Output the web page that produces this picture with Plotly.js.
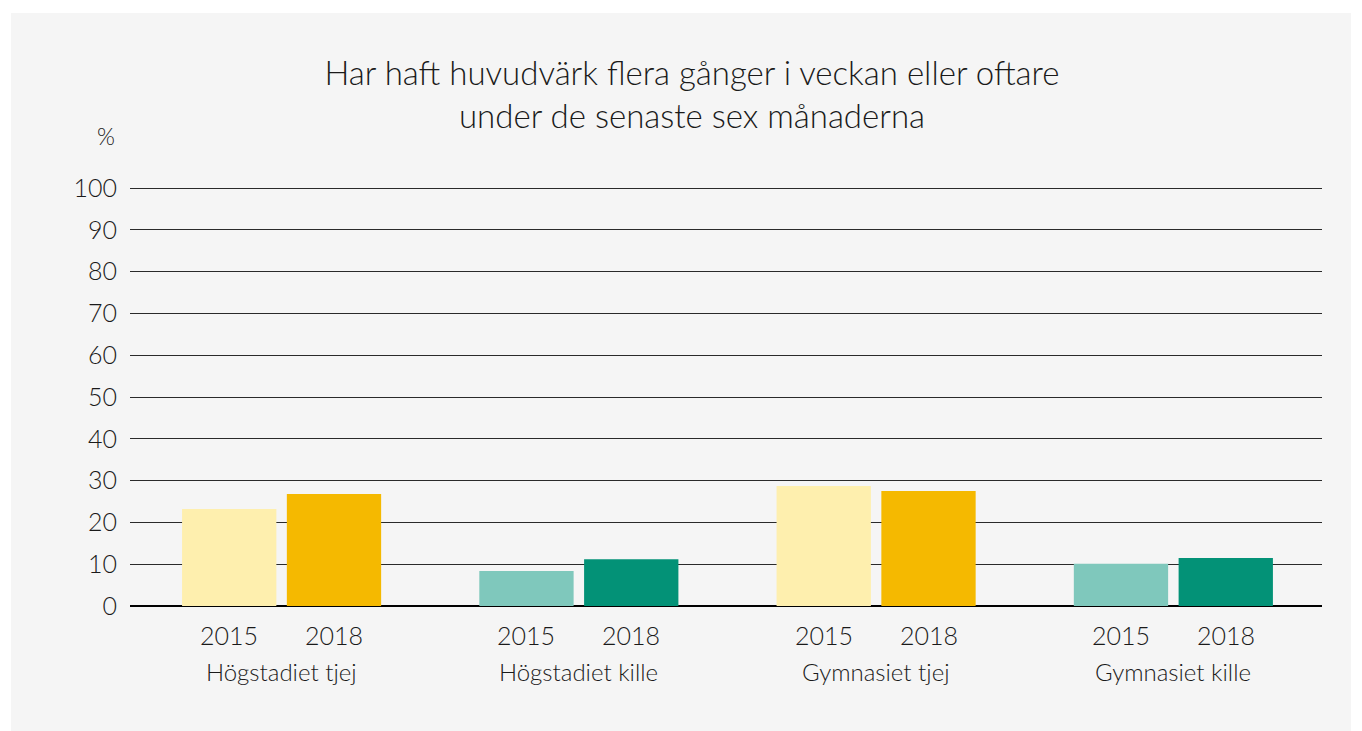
<!DOCTYPE html>
<html>
<head>
<meta charset="utf-8">
<script src="https://cdn.plot.ly/plotly-3.0.1.min.js"></script>
<style>
html,body{margin:0;padding:0;background:#ffffff;}
#chart{position:absolute;left:11px;top:13px;width:1340px;height:718px;}
</style>
</head>
<body>
<div id="chart"></div>
<script>
const categories = ["Högstadiet tjej", "Högstadiet kille", "Gymnasiet tjej", "Gymnasiet kille"];
const years = ["2015", "2018"];
const values2015 = [23.2, 8.4, 28.7, 10.1];
const values2018 = [26.8, 11.2, 27.5, 11.5];
const colors2015 = ["#FEEFAE", "#7FC8BC", "#FEEFAE", "#7FC8BC"];
const colors2018 = ["#F5B900", "#039277", "#F5B900", "#039277"];
const yTicks = [0, 10, 20, 30, 40, 50, 60, 70, 80, 90, 100];

const FONT = "Lato, 'Noto Sans', sans-serif";
const TXT = "#1a1a1a";
const idx = categories.map((c, i) => i);

const traces = [
  {type: "bar", x: idx, y: values2015, name: years[0], marker: {color: colors2015}, hoverinfo: "y"},
  {type: "bar", x: idx, y: values2018, name: years[1], marker: {color: colors2018}, hoverinfo: "y"}
];

const plotTop = 171, plotBottom = 593, plotH = plotBottom - plotTop;
const py = (divY) => (plotBottom - divY) / plotH;

const annotations = [];
const off = 0.177;
idx.forEach(i => {
  annotations.push({x: i - off, y: py(622), xref: "x", yref: "paper", text: years[0], showarrow: false, yanchor: "middle", font: {size: 25, color: TXT, family: FONT, weight: 300}});
  annotations.push({x: i + off, y: py(622), xref: "x", yref: "paper", text: years[1], showarrow: false, yanchor: "middle", font: {size: 25, color: TXT, family: FONT, weight: 300}});
  annotations.push({x: i, y: py(658), xref: "x", yref: "paper", text: categories[i], showarrow: false, yanchor: "middle", font: {size: 24, color: TXT, family: FONT, weight: 300}});
});
annotations.push({x: (95 - 119) / 1192, y: py(123), xref: "paper", yref: "paper", text: "%", showarrow: false, xanchor: "center", yanchor: "middle", font: {size: 23, color: TXT, family: FONT, weight: 300}});

const layout = {
  width: 1340, height: 718,
  paper_bgcolor: "#f5f5f5", plot_bgcolor: "#f5f5f5",
  margin: {l: 119, r: 29, t: plotTop, b: 718 - plotBottom},
  showlegend: false,
  barmode: "group",
  bargap: 0.295,
  bargroupgap: 0.1,
  font: {family: FONT, color: TXT},
  title: {
    text: "Har haft huvudvärk flera gånger i veckan eller oftare<br>under de senaste sex månaderna",
    xref: "container", x: 681/1340, xanchor: "center",
    yref: "container", y: 1 - 72/718, yanchor: "middle",
    font: {size: 33, color: TXT, family: FONT, weight: 300}
  },
  xaxis: {
    range: [-0.51, 3.5],
    showticklabels: false, showgrid: false, zeroline: false, ticks: "", fixedrange: true
  },
  yaxis: {
    range: [0, 101],
    tickvals: yTicks, ticktext: yTicks.map(String),
    showgrid: true, gridcolor: "#2a2a2a", gridwidth: 1,
    zeroline: true, zerolinecolor: "#000000", zerolinewidth: 2.5,
    ticks: "", ticklabelstandoff: 12,
    tickfont: {size: 25, color: TXT, family: FONT, weight: 300},
    fixedrange: true
  },
  annotations: annotations
};

Plotly.newPlot("chart", traces, layout, {displayModeBar: false, staticPlot: true});
</script>
</body>
</html>
